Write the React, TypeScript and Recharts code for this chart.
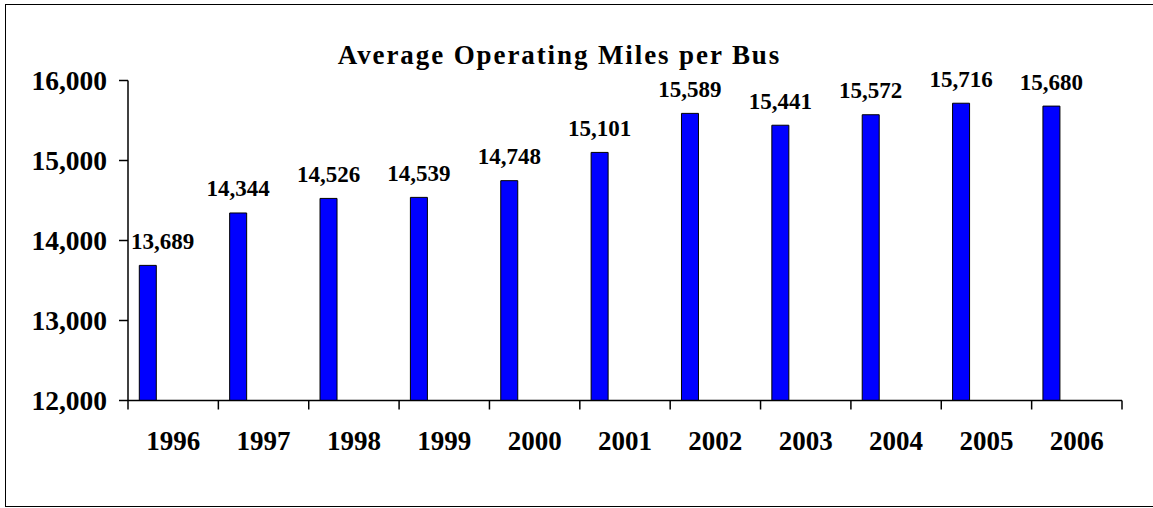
import { BarChart, Bar, XAxis, YAxis, LabelList } from 'recharts';

const YEARS = ['1996', '1997', '1998', '1999', '2000', '2001', '2002', '2003', '2004', '2005', '2006'];
const MILES = [13689, 14344, 14526, 14539, 14748, 15101, 15589, 15441, 15572, 15716, 15680];
const Y_TICKS = [12000, 13000, 14000, 15000, 16000];

const TITLE = 'Average Operating Miles per Bus';
const FONT = '"Liberation Serif", "Times New Roman", serif';

const WIDTH = 1153;
const HEIGHT = 508;
const Y_AXIS_WIDTH = 128; // plot starts here
const PLOT_RIGHT_MARGIN = 31;
const BAND = (WIDTH - Y_AXIS_WIDTH - PLOT_RIGHT_MARGIN) / YEARS.length;

// the original sheet had 4 series per category, only the first one filled
const chartData = YEARS.map((year, i) => ({
  year,
  miles: MILES[i],
  s1: null,
  s2: null,
  s3: null,
}));

const fmt = (v: number) => v.toLocaleString('en-US');

function YearTick(props: any) {
  const { x, y, payload, index } = props;
  const half = payload?.offset || BAND / 2;
  return (
    <g>
      <line x1={x - half} x2={x - half} y1={y} y2={y + 9} stroke="#000" strokeWidth={1.5} />
      {index === YEARS.length - 1 && (
        <line x1={x + half} x2={x + half} y1={y} y2={y + 9} stroke="#000" strokeWidth={1.5} />
      )}
      <text
        x={x}
        y={y + 49}
        textAnchor="middle"
        fill="#000"
        fontSize={27}
        fontWeight="bold"
        fontFamily={FONT}
      >
        {payload.value}
      </text>
    </g>
  );
}

function ValueLabel(props: any) {
  const { x, y, width, value } = props;
  if (value == null) return null;
  const text = fmt(Number(value));
  const fontSize = 23;
  const estWidth = text.replace(/,/g, '').length * 0.5 * fontSize + 0.25 * fontSize;
  const cx = Number(x) + Number(width) / 2;
  const minLeft = Y_AXIS_WIDTH + 3;
  const shift = cx - estWidth / 2 < minLeft;
  return (
    <text
      x={shift ? minLeft : cx}
      y={Number(y) - 16.5}
      textAnchor={shift ? 'start' : 'middle'}
      fill="#000"
      fontSize={fontSize}
      fontWeight="bold"
      fontFamily={FONT}
    >
      {text}
    </text>
  );
}

export default function App() {
  return (
    <div
      style={{
        position: 'absolute',
        left: 0,
        top: 0,
        width: WIDTH,
        height: HEIGHT,
        overflow: 'hidden',
        background: '#fff',
      }}
    >
      {/* chart area frame, right edge falls outside the crop */}
      <div
        style={{
          position: 'absolute',
          left: 5,
          top: 4,
          width: WIDTH + 10,
          height: 503,
          boxSizing: 'border-box',
          border: '1px solid #000',
        }}
      />
      <svg
        width={WIDTH}
        height={HEIGHT}
        style={{ position: 'absolute', left: 0, top: 0, pointerEvents: 'none' }}
      >
        <text
          x={559.5}
          y={63.5}
          textAnchor="middle"
          fill="#000"
          fontSize={27}
          fontWeight="bold"
          fontFamily={FONT}
          letterSpacing={1.9}
        >
          {TITLE}
        </text>
      </svg>
      <div style={{ position: 'absolute', left: 0, top: 0 }}>
        <BarChart
          width={WIDTH}
          height={HEIGHT}
          data={chartData}
          margin={{ top: 80.5, right: PLOT_RIGHT_MARGIN, bottom: 47.5, left: 0 }}
          barCategoryGap={11.3}
          barGap={0}
        >
          <XAxis
            dataKey="year"
            height={60}
            interval={0}
            tickSize={0}
            tickMargin={0}
            tickLine={false}
            axisLine={{ stroke: '#000', strokeWidth: 1.5 }}
            tick={<YearTick />}
          />
          <YAxis
            width={Y_AXIS_WIDTH}
            domain={[12000, 16000]}
            ticks={Y_TICKS}
            interval={0}
            tickSize={9}
            tickMargin={12}
            tickFormatter={fmt}
            axisLine={{ stroke: '#000', strokeWidth: 1.5 }}
            tickLine={{ stroke: '#000', strokeWidth: 1.5 }}
            tick={{ fill: '#000', fontSize: 27.5, fontWeight: 'bold', fontFamily: FONT }}
          />
          <Bar dataKey="miles" fill="#0000FF" stroke="#000" strokeWidth={1} isAnimationActive={false}>
            <LabelList dataKey="miles" content={<ValueLabel />} />
          </Bar>
          <Bar dataKey="s1" fill="none" isAnimationActive={false} />
          <Bar dataKey="s2" fill="none" isAnimationActive={false} />
          <Bar dataKey="s3" fill="none" isAnimationActive={false} />
        </BarChart>
      </div>
    </div>
  );
}
